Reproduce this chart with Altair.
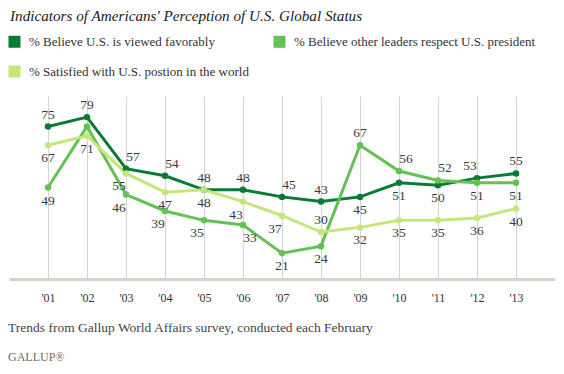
import altair as alt
import pandas as pd

years = ["'01", "'02", "'03", "'04", "'05", "'06", "'07", "'08", "'09", "'10", "'11", "'12", "'13"]
favorable = [75, 79, 57, 54, 48, 48, 45, 43, 45, 51, 50, 53, 55]
respect = [49, 75, 46, 39, 35, 33, 21, 24, 67, 56, 52, 51, 51]
satisfied = [67, 71, 55, 47, 48, 43, 37, 30, 32, 35, 35, 36, 40]

series_names = [
    "% Believe U.S. is viewed favorably",
    "% Believe other leaders respect U.S. president",
    "% Satisfied with U.S. postion in the world",
]
series_colors = ["#0b7a35", "#63c253", "#c6e67b"]

# label placement per point: a = above, b = below, n = no label;
# optional L / R = nudged left / right
fav_place = ["a", "a", "aR", "aR", "a", "a", "aR", "a", "b", "b", "b", "aL", "a"]
res_place = ["b", "n", "bL", "bL", "bL", "bR", "b", "b", "a", "aR", "aR", "b", "b"]
sat_place = ["b", "b", "bL", "b", "b", "bL", "bL", "a", "b", "b", "b", "b", "b"]

title_text = "Indicators of Americans' Perception of U.S. Global Status"
footer_text = "Trends from Gallup World Affairs survey, conducted each February"
brand_text = "GALLUP\u00ae"

rows = []
for name, vals, places in zip(series_names, [favorable, respect, satisfied],
                              [fav_place, res_place, sat_place]):
    for yr, v, p in zip(years, vals, places):
        rows.append({"year": yr, "value": v, "series": name, "place": p,
                     "label": str(v)})
df = pd.DataFrame(rows)

FONT = "Liberation Serif"

x_enc = alt.X("year:O", sort=years,
              scale=alt.Scale(type="point", padding=1),
              axis=alt.Axis(title=None, labelAngle=0, ticks=False,
                            labelFont=FONT, labelFontSize=12, labelColor="#333333",
                            labelPadding=13, domainColor="#d3d3cc", domainWidth=3,
                            grid=True, gridColor="#d4d4d4", gridWidth=1))
y_enc = alt.Y("value:Q", scale=alt.Scale(domain=[10, 88], zero=False, nice=False),
              axis=None)
color_enc = alt.Color("series:N", sort=series_names,
                      scale=alt.Scale(domain=series_names, range=series_colors),
                      legend=alt.Legend(title=None, orient="none", legendX=-1, legendY=-61,
                                        direction="horizontal",
                                        columns=2, columnPadding=24, rowPadding=16,
                                        symbolType="square", symbolSize=144,
                                        symbolStrokeWidth=0, labelOffset=8,
                                        labelFont=FONT, labelFontSize=13,
                                        labelColor="#333333", labelLimit=400))

base = alt.Chart(df).encode(x=x_enc, y=y_enc, color=color_enc)

lines = base.mark_line(strokeWidth=3)
points = base.mark_circle(size=42, opacity=1)

label_layers = []
for code, dy, dx in [("a", -12, 0), ("aL", -12, -7), ("aR", -12, 7),
                     ("b", 13, 0), ("bL", 13, -7), ("bR", 13, 7)]:
    label_layers.append(
        base.transform_filter(alt.datum.place == code).mark_text(
            dy=dy, dx=dx, font=FONT, fontSize=13.5, color="#333333").encode(
            text="label:N", color=alt.value("#3a3a3a")))

title = alt.Chart(pd.DataFrame({"t": [title_text]})).mark_text(
    align="left", baseline="alphabetic", font=FONT, fontSize=15.2, fontStyle="italic",
    color="#222222").encode(text="t:N", x=alt.value(1), y=alt.value(-75.5))
footer = alt.Chart(pd.DataFrame({"t": [footer_text]})).mark_text(
    align="left", baseline="middle", font=FONT, fontSize=13.5,
    color="#444444").encode(text="t:N", x=alt.value(-1), y=alt.value(232))
brand = alt.Chart(pd.DataFrame({"t": [brand_text]})).mark_text(
    align="left", baseline="middle", font=FONT, fontSize=12,
    color="#6a6a6a").encode(text="t:N", x=alt.value(-1), y=alt.value(261))

chart = alt.layer(lines, points, *label_layers, title, footer, brand).properties(
    width=546, height=183,
    autosize=alt.AutoSizeParams(type="none"),
    padding={"left": 1, "top": 88, "right": 0, "bottom": 86},
).configure_view(stroke=None)

chart.save("out.html", embed_options={"renderer": "svg", "actions": False})
